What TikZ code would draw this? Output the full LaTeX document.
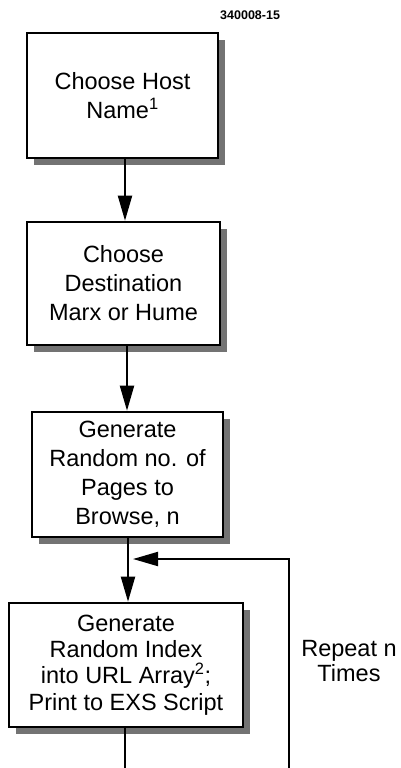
\documentclass[tikz,border=0pt]{standalone}
\usepackage{fontspec}
\setmainfont{Liberation Sans}
\usetikzlibrary{arrows.meta,shadows}
\begin{document}
\begin{tikzpicture}[x=1pt,y=-1pt,
  stepbox/.style={draw=black, line width=2.6pt, fill=white, align=center,
    inner sep=0pt, font=\fontsize{23.5}{29}\selectfont,
    drop shadow={shadow xshift=7pt, shadow yshift=-7pt, fill=black!55, opacity=1}},
  flow/.style={line width=2pt, -{Triangle[length=25pt,width=14pt]}},
  wire/.style={line width=2pt}]
\useasboundingbox (0,0) rectangle (401,768);

% figure number
\node[anchor=base west, inner sep=0pt, font=\fontsize{12.5}{14}\bfseries\selectfont] (code) at (220,20) {340008-15};

% process steps
\node[stepbox, minimum width=191pt, minimum height=125pt] (b1) at (122.5,95.5)
  {Choose Host\\Name\textsuperscript{1}};
\node[stepbox, minimum width=193pt, minimum height=123pt] (b2) at (123.5,283.5)
  {Choose\\Destination\\Marx or Hume};
\node[stepbox, minimum width=191pt, minimum height=125pt] (b3) at (127.5,474.5)
  {Generate\\Random no. of\\Pages to\\Browse, n};
\node[stepbox, minimum width=234pt, minimum height=124pt, font=\fontsize{23.5}{26.3}\selectfont] (b4) at (126,665)
  {Generate\\Random Index\\into URL Array\textsuperscript{2};\\Print to EXS Script};

% loop label
\node[align=center, inner sep=0pt, font=\fontsize{23.5}{25.5}\selectfont] (rep) at (349,661) {Repeat n\\Times};

% main flow
\draw[flow] (b1.south -| 125,0) -- (b2.north -| 125,0);
\draw[flow] (b2.south -| 127,0) -- (b3.north -| 127,0);
\draw[flow] (b3.south -| 128,0) -- (b4.north -| 128,0);

% repeat loop
\coordinate (loopL) at (125,768);
\coordinate (loopR) at (289,768);
\coordinate (loopTop) at (289,559);
\coordinate (loopIn) at (133,559);
\draw[wire] (b4.south -| loopL) -- (loopL);
\draw[flow] (loopR) -- (loopTop) -- (loopIn);
\end{tikzpicture}
\end{document}
